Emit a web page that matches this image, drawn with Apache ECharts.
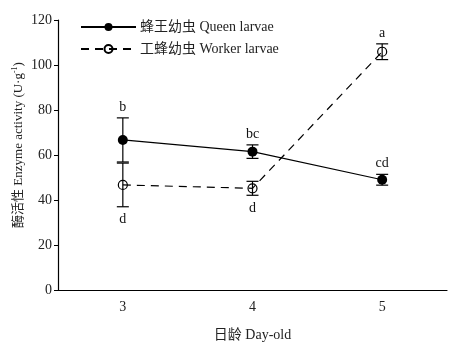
<!DOCTYPE html>
<html><head><meta charset="utf-8">
<script src="https://cdn.jsdelivr.net/npm/echarts@6/dist/echarts.min.js"></script>
<style>html,body{margin:0;padding:0;background:#fff}#c{width:463px;height:352px}</style>
</head><body><div id="c"></div>
<script>
var categories = ['3', '4', '5'];
var queenMean = [66.7, 61.5, 49.0];
var queenErr = [9.8, 3.0, 2.4];
var queenLetters = ['b', 'bc', 'cd'];
var workerMean = [46.7, 45.2, 105.9];
var workerErr = [9.7, 3.1, 3.5];
var workerLetters = ['d', 'd', 'a'];
var workerLetterAbove = [false, false, true];
var queenName = '蜂王幼虫 Queen larvae';
var workerName = '工蜂幼虫 Worker larvae';

var FONT = '"Liberation Serif", "Noto Sans CJK SC", serif';
var FS = 14;

function errSeries(mean, err, letters, aboveArr) {
  var data = mean.map(function (m, i) { return [i, m, err[i]]; });
  return {
    type: 'custom',
    silent: true,
    z: 5,
    data: data,
    renderItem: function (params, api) {
      var i = params.dataIndex;
      var x = api.coord([api.value(0), 0])[0];
      var m = api.value(1), e = api.value(2);
      var top = api.coord([api.value(0), m + e])[1];
      var bot = api.coord([api.value(0), m - e])[1];
      var hw = 6;
      var st = { stroke: '#000', lineWidth: 1.2 };
      var above = aboveArr[i];
      return {
        type: 'group',
        children: [
          { type: 'line', shape: { x1: x, y1: top, x2: x, y2: bot }, style: st },
          { type: 'line', shape: { x1: x - hw, y1: top, x2: x + hw, y2: top }, style: st },
          { type: 'line', shape: { x1: x - hw, y1: bot, x2: x + hw, y2: bot }, style: st },
          { type: 'text', style: { text: letters[i], x: x, y: above ? top - 11 : bot + 13, align: 'center', verticalAlign: 'middle', fill: '#111', font: FS + 'px ' + FONT } }
        ]
      };
    }
  };
}

var chart = echarts.init(document.getElementById('c'));
chart.setOption({
  animation: false,
  textStyle: { fontFamily: FONT },
  grid: { left: 58, right: 16, top: 20, bottom: 62, outerBoundsMode: 'none', containLabel: false },
  legend: {
    orient: 'vertical', left: 75, top: 15, itemGap: 8,
    itemWidth: 55, itemHeight: 10,
    textStyle: { fontSize: FS, color: '#222', fontFamily: FONT, padding: [0, 0, 0, -1] },
    data: [queenName, workerName]
  },
  xAxis: {
    type: 'category', data: categories, boundaryGap: true,
    name: '日龄 Day-old', nameLocation: 'middle', nameGap: 38, nameMoveOverlap: false,
    nameTextStyle: { fontSize: FS, color: '#222', fontFamily: FONT },
    axisLine: { lineStyle: { color: '#000', width: 1.2 } },
    axisTick: { inside: true, length: 4, lineStyle: { color: '#000' } },
    axisLabel: { fontSize: FS, color: '#222', margin: 10, fontFamily: FONT }
  },
  yAxis: {
    type: 'value', min: 0, max: 120, interval: 20,
    name: '酶活性 Enzyme activity (U·g{s|-1})', nameLocation: 'middle', nameGap: 32, nameMoveOverlap: false,
    nameTextStyle: { fontSize: 13, color: '#222', fontFamily: FONT, padding: [0, 0, 0, 20], rich: { s: { fontSize: 8, verticalAlign: 'top', padding: [0, 0, 7, 0], fontFamily: FONT, color: '#222' } } },
    axisLine: { show: true, lineStyle: { color: '#000', width: 1.2 } },
    axisTick: { show: true, length: 4, lineStyle: { color: '#000' } },
    axisLabel: { fontSize: FS, color: '#222', margin: 6, fontFamily: FONT },
    splitLine: { show: false }
  },
  series: [
    {
      name: queenName, type: 'line', data: queenMean, z: 4,
      symbol: 'circle', symbolSize: 10,
      itemStyle: { color: '#000' },
      lineStyle: { color: '#000', width: 1.2 }
    },
    {
      name: workerName, type: 'line', data: workerMean, z: 4,
      symbol: 'circle', symbolSize: 9,
      itemStyle: { color: 'rgba(255,255,255,0)', borderColor: '#000', borderWidth: 1.2 },
      lineStyle: { color: '#000', width: 1.2, type: [8, 6] }
    },
    errSeries(queenMean, queenErr, queenLetters, [true, true, true]),
    errSeries(workerMean, workerErr, workerLetters, workerLetterAbove)
  ]
});
</script></body></html>
